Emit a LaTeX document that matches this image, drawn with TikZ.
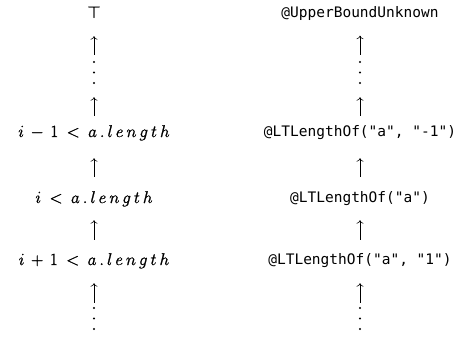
\RequirePackage{fix-cm}
\documentclass[tikz,border=0pt]{standalone}
\usepackage{fontspec}
\setmonofont{DejaVu Sans Mono}
\usetikzlibrary{arrows.meta}
\newcommand\lsp{\kern3pt}
\newcommand\alen{a\lsp.\lsp l\lsp e\lsp n\lsp g\lsp t\lsp h}
\newcommand\opb[1]{\mskip3mu #1\mskip3mu}
\newcommand\opr[1]{\mskip4mu #1\mskip4mu}
\newcommand\heavy[1]{\special{pdf:literal direct 2 Tr 0.2 w}#1\special{pdf:literal direct 0 Tr}}
\tikzset{
  mathlbl/.style={inner sep=0pt, anchor=base, font=\fontsize{17}{20}\selectfont, text height=11pt, text depth=3pt},
  codelbl/.style={inner sep=0pt, anchor=base, font=\fontsize{14.5}{17}\ttfamily, text height=11pt, text depth=3pt},
  dotcol/.style={inner sep=0pt, minimum height=24pt, minimum width=4pt},
  arr/.style={line width=0.6pt, -{Computer Modern Rightarrow[length=3.5pt,width=7pt]}},
}
\begin{document}
\begin{tikzpicture}[x=1pt,y=-1pt]
\useasboundingbox[fill=white] (0,0) rectangle (466,339);
% left column
\node[mathlbl] (lt) at (94,18) {\heavy{$\top$}};
\node[dotcol] (lv1) at (94,72.5) {};
\foreach \yy in {62,72.5,83} \fill (94,\yy) circle (1.1);
\node[mathlbl] (l1) at (94,137) {\heavy{$i \opb{-} 1 \opr{<} \alen$}};
\node[mathlbl] (l2) at (94,203) {\heavy{$i \opr{<} \alen$}};
\node[mathlbl] (l3) at (94,265) {\heavy{$i \opb{+} 1 \opr{<} \alen$}};
\node[dotcol] (lv2) at (94,318.5) {};
\foreach \yy in {308,318.5,329} \fill (94,\yy) circle (1.1);
% right column
\node[codelbl] (rt) at (360,17.5) {@UpperBoundUnknown};
\node[dotcol] (rv1) at (360,72.5) {};
\foreach \yy in {62,72.5,83} \fill (360,\yy) circle (1.1);
\node[codelbl] (r1) at (360,137) {@LTLengthOf("a", "-1")};
\node[codelbl] (r2) at (360,203) {@LTLengthOf("a")};
\node[codelbl] (r3) at (360,265) {@LTLengthOf("a", "1")};
\node[dotcol] (rv2) at (360,318.5) {};
\foreach \yy in {308,318.5,329} \fill (360,\yy) circle (1.1);
% arrows
\foreach \c in {l,r}{
  \draw[arr, shorten <=5.5pt, shorten >=15pt] (\c v1.north) -- (\c t.south);
  \draw[arr, shorten <=10pt, shorten >=12.5pt] (\c 1.north) -- (\c v1.south);
  \draw[arr, shorten <=15pt, shorten >=18pt] (\c 2.north) -- (\c 1.south);
  \draw[arr, shorten <=14pt, shorten >=14pt] (\c 3.north) -- (\c 2.south);
  \draw[arr, shorten <=3.5pt, shorten >=15pt] (\c v2.north) -- (\c 3.south);
}
\end{tikzpicture}
\end{document}
